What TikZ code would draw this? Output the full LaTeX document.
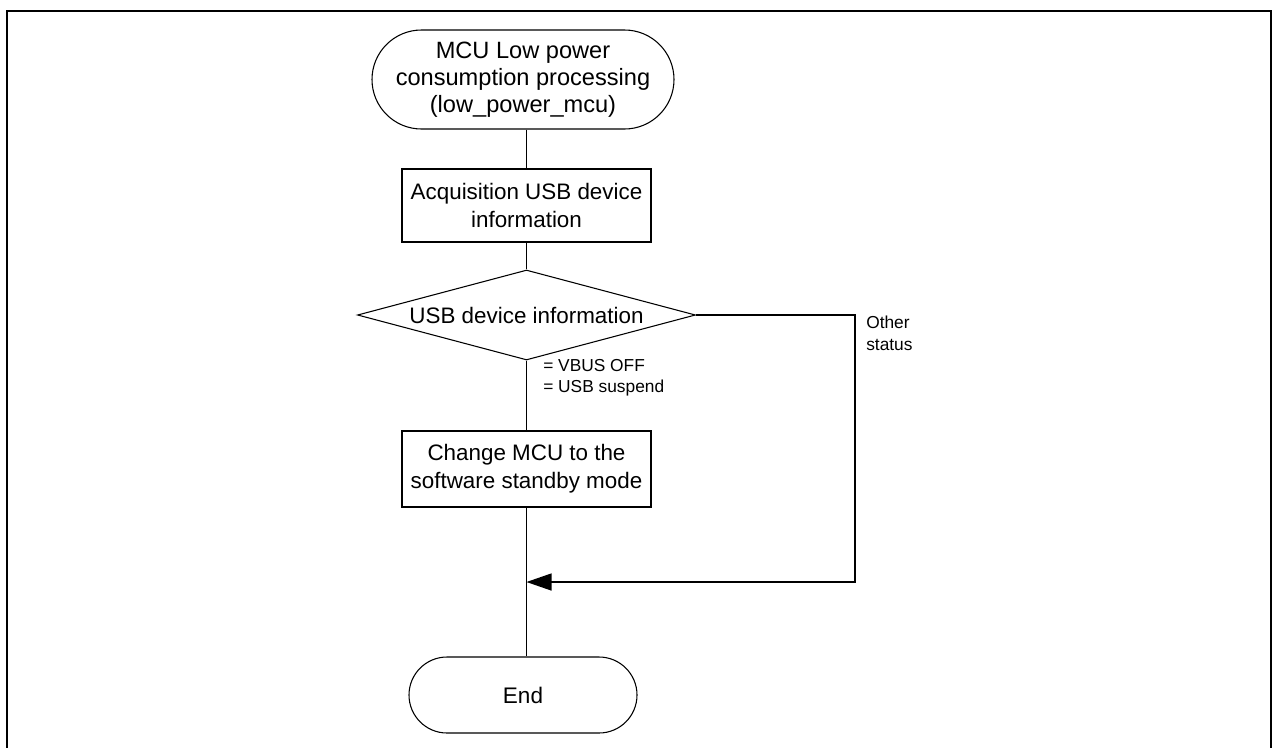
\documentclass[tikz,border=0pt]{standalone}
\usepackage{fontspec}
\setmainfont{Liberation Sans}
\usetikzlibrary{shapes.misc,shapes.geometric,arrows.meta}
\begin{document}
\begin{tikzpicture}[x=0.75pt,y=-0.75pt,
  term/.style={draw,rounded rectangle,line width=0.8pt,inner sep=0pt,align=center,
    font=\fontsize{17.7}{20.25}\selectfont},
  proc/.style={draw,rectangle,line width=0.8pt,inner sep=0pt,align=center,
    minimum width=186.75pt,font=\fontsize{16.8}{21}\selectfont},
  dec/.style={draw,diamond,line width=0.8pt,inner sep=0pt,aspect=3.76,
    minimum width=253.5pt,minimum height=67.5pt,font=\fontsize{16.8}{21}\selectfont},
  lbl/.style={inner sep=0pt,anchor=base west,font=\fontsize{13}{16}\selectfont},
  conn/.style={line width=1pt}]
\useasboundingbox (0,0) rectangle (1272,747);
\draw[line width=1.5pt] (7,770) -- (7,11) -- (1270.5,11) -- (1270.5,770);

\node[term,minimum width=226.5pt,minimum height=74.25pt] (start) at (523,79.5)
  {MCU Low power\\consumption processing\\(low\_power\_mcu)};
\node[proc,minimum height=54.75pt] (acq) at (526.5,205.5)
  {Acquisition USB device\\information};
\node[dec] (dec) at (526.5,315) {USB device information};
\node[proc,minimum height=57pt] (chg) at (526.5,469)
  {Change MCU to the\\software standby mode};
\node[term,minimum width=171pt,minimum height=57pt,font=\fontsize{16.9}{20}\selectfont] (end) at (523,695) {End};

\node[lbl] (l1) at (543,371) {= VBUS OFF};
\node[lbl] (l2) at (543,392) {= USB suspend};
\node[lbl] (o1) at (866,328) {Other};
\node[lbl] (o2) at (866,350) {status};

\coordinate (r1) at (855,315);
\coordinate (r2) at (855,582);
\coordinate (m) at (526.5,582);

\draw[conn] (acq.north |- start.south) -- (acq.north);
\draw[conn] (acq.south) -- (dec.north);
\draw[conn] (dec.south) -- (chg.north);
\draw[conn] (chg.south) -- (chg.south |- end.north);
\draw[conn,-{Triangle[length=18.75pt,width=12.75pt]}] (dec.east) -- (r1) -- (r2) -- (m);
\end{tikzpicture}
\end{document}
